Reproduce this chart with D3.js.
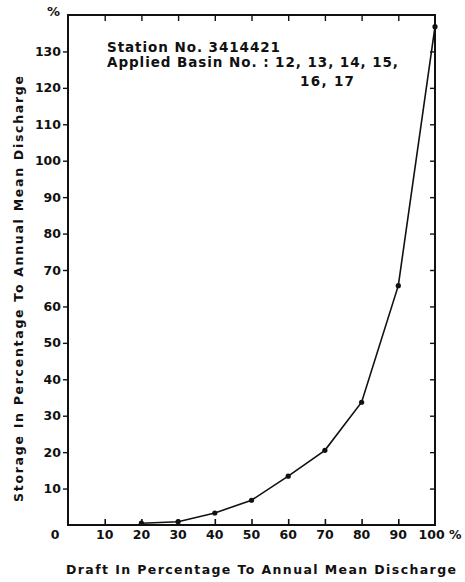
<!DOCTYPE html>
<html>
<head>
<meta charset="utf-8">
<script src="https://cdn.jsdelivr.net/npm/d3@7"></script>
<style>
  html, body { margin: 0; padding: 0; background: #fff; }
  svg { display: block; }
  text { font-family: "DejaVu Sans", "Liberation Sans", sans-serif; fill: #111; }
</style>
</head>
<body>
<svg id="chart" width="465" height="582"></svg>
<script>
// Draft (% of annual mean discharge) and required storage (% of annual mean discharge)
const draftPct   = [20, 30, 40, 50, 60, 70, 80, 90, 100];
const storagePct = [0.5, 0.9, 3.3, 6.8, 13.4, 20.5, 33.7, 65.7, 136.8];

const xTickValues = [0, 10, 20, 30, 40, 50, 60, 70, 80, 90, 100];
const xTickLabels = ["0", "10", "20", "30", "40", "50", "60", "70", "80", "90", "100 %"];
const yTickValues = [10, 20, 30, 40, 50, 60, 70, 80, 90, 100, 110, 120, 130];

const noteLines = ["Station No. 3414421", "Applied Basin No. : 12, 13, 14, 15,", "16, 17"];

const svg = d3.select("#chart");
const box = { left: 68, right: 435, top: 15, bottom: 525 };

const x = d3.scaleLinear().domain([0, 100]).range([box.left, box.right]);
const y = d3.scaleLinear().domain([0, 140]).range([box.bottom, box.top]);

// frame
svg.append("rect")
  .attr("x", box.left).attr("y", box.top)
  .attr("width", box.right - box.left).attr("height", box.bottom - box.top)
  .attr("fill", "none").attr("stroke", "#111").attr("stroke-width", 2);

// bottom axis: inward ticks, labels below
const xAxis = svg.append("g").attr("transform", `translate(0,${box.bottom})`)
  .call(d3.axisBottom(x).tickValues(xTickValues.slice(1, -1)).tickSize(-6).tickFormat(""));
xAxis.select(".domain").remove();
xAxis.selectAll("line").attr("stroke", "#111").attr("stroke-width", 1.6);

svg.append("g").selectAll("text").data(xTickValues).join("text")
  .attr("x", (d, i) => x(d) + (i === 0 ? -13 : (i === xTickValues.length - 1 ? 5 : 0)))
  .attr("y", box.bottom + 14)
  .attr("text-anchor", "middle")
  .attr("font-size", 12.5).attr("font-weight", "bold")
  .text((d, i) => xTickLabels[i]);

// top axis: inward ticks
const topAxis = svg.append("g").attr("transform", `translate(0,${box.top})`)
  .call(d3.axisTop(x).tickValues(xTickValues.slice(1, -1)).tickSize(-6).tickFormat(""));
topAxis.select(".domain").remove();
topAxis.selectAll("line").attr("stroke", "#111").attr("stroke-width", 1.4);

// left axis: outward ticks with labels
const yAxis = svg.append("g").attr("transform", `translate(${box.left},0)`)
  .call(d3.axisLeft(y).tickValues(yTickValues).tickSize(5).tickPadding(2));
yAxis.select(".domain").remove();
yAxis.selectAll("line").attr("stroke", "#111").attr("stroke-width", 1.4);
yAxis.selectAll("text").attr("font-size", 12.5).attr("font-weight", "bold")
  .attr("font-family", "\"DejaVu Sans\", sans-serif").attr("fill", "#111");

// right axis: inward ticks
const rAxis = svg.append("g").attr("transform", `translate(${box.right},0)`)
  .call(d3.axisRight(y).tickValues(yTickValues).tickSize(-5).tickFormat(""));
rAxis.select(".domain").remove();
rAxis.selectAll("line").attr("stroke", "#111").attr("stroke-width", 1.4);

// unit mark at the top of the vertical axis
svg.append("text").attr("x", 47).attr("y", 16)
  .attr("font-size", 13).attr("font-weight", "bold").text("%");

// axis titles
svg.append("text")
  .attr("x", 261).attr("y", 574)
  .attr("text-anchor", "middle")
  .attr("font-size", 12.5).attr("font-weight", "bold")
  .attr("textLength", 390).attr("lengthAdjust", "spacing")
  .text("Draft In Percentage To Annual Mean Discharge");

svg.append("text")
  .attr("transform", "translate(23,289) rotate(-90)")
  .attr("text-anchor", "middle")
  .attr("font-size", 12.5).attr("font-weight", "bold")
  .attr("textLength", 426).attr("lengthAdjust", "spacing")
  .text("Storage In Percentage To Annual Mean Discharge");

// station note
const note = svg.append("g");
note.append("text").attr("x", 107).attr("y", 52)
  .attr("font-size", 13.5).attr("font-weight", "bold")
  .attr("textLength", 173).attr("lengthAdjust", "spacing").text(noteLines[0]);
note.append("text").attr("x", 107).attr("y", 67)
  .attr("font-size", 13.5).attr("font-weight", "bold")
  .attr("textLength", 291).attr("lengthAdjust", "spacing").text(noteLines[1]);
note.append("text").attr("x", 300).attr("y", 86)
  .attr("font-size", 13.5).attr("font-weight", "bold")
  .attr("textLength", 54).attr("lengthAdjust", "spacing").text(noteLines[2]);

// storage-draft curve
const pts = draftPct.map((d, i) => [d, storagePct[i]]);
svg.append("path")
  .datum(pts)
  .attr("fill", "none").attr("stroke", "#111").attr("stroke-width", 1.6)
  .attr("d", d3.line().x(d => x(d[0])).y(d => y(d[1])));

svg.append("g").selectAll("circle").data(pts).join("circle")
  .attr("cx", d => x(d[0])).attr("cy", d => y(d[1]))
  .attr("r", 2.6).attr("fill", "#111");
</script>
</body>
</html>
